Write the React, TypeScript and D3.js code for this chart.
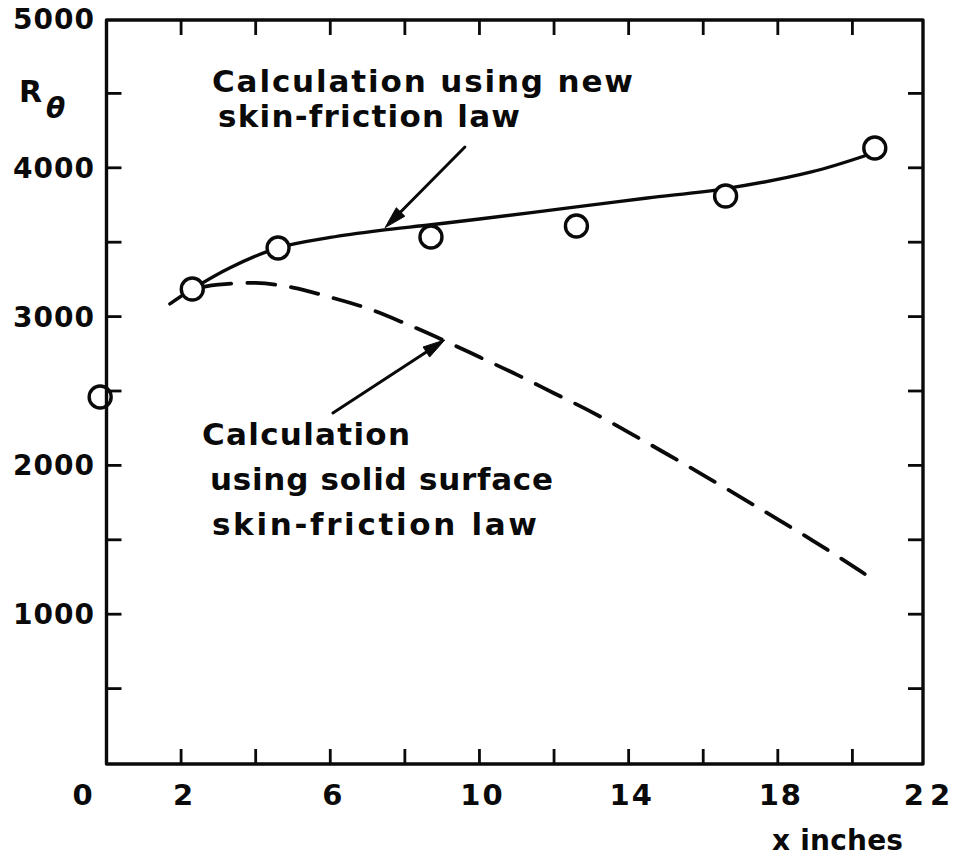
import React from "react";
import * as d3 from "d3";

// ---- data ----
const xTickValues = [2, 4, 6, 8, 10, 12, 14, 16, 18, 20];
const xTickLabels = [0, 2, 6, 10, 14, 18, 22];
const yTickValues = [500, 1000, 1500, 2000, 2500, 3000, 3500, 4000, 4500];
const yTickLabels = [1000, 2000, 3000, 4000, 5000];

// measured R_theta (circles)
const obsX = [-0.17, 2.3, 4.6, 8.7, 12.6, 16.6, 20.6];
const obsY = [2460, 3185, 3461, 3535, 3609, 3810, 4133];

// calculation using new skin-friction law (solid)
const newLawX = [1.7, 2.3, 3.3, 4.6, 6.0, 7.3, 8.7, 10.0, 12.6, 14.5, 16.6, 18.9, 20.4];
const newLawY = [3085, 3185, 3327, 3462, 3532, 3578, 3617, 3656, 3737, 3797, 3860, 3972, 4086];

// calculation using solid surface skin-friction law (dashed)
const solidLawX = [2.6, 3.0, 4.0, 5.0, 6.0, 7.0, 8.0, 9.0, 10.0, 11.0, 12.0, 13.0, 14.0, 15.0, 16.0, 17.0, 18.0, 19.0, 20.0, 20.6];
const solidLawY = [3200, 3215, 3226, 3195, 3130, 3055, 2955, 2845, 2728, 2610, 2485, 2360, 2222, 2080, 1935, 1787, 1637, 1485, 1325, 1225];

// annotation arrows (tail -> tip), in data units
const arrowNew = { x1: 9.61, y1: 4140, x2: 7.47, y2: 3598 };
const arrowSolid = { x1: 6.07, y1: 2352, x2: 9.07, y2: 2843 };

const W = 958;
const H = 856;
const FONT = "'DejaVu Sans', 'Open Sans', sans-serif";
const INK = "#0a0a0a";

export default function App() {
  const x = d3.scaleLinear().domain([0, 22]).range([106.5, 927]);
  const y = d3.scaleLinear().domain([0, 5000]).range([763, 19]);

  const frameLeft = x(0);
  const frameRight = 923;
  const frameTop = y(5000) + 1;
  const frameBottom = y(0) + 1;
  const tickLen = 15;

  const line = d3
    .line<[number, number]>()
    .x((d) => x(d[0]))
    .y((d) => y(d[1]))
    .curve(d3.curveCatmullRom.alpha(0.5));

  const newPts: [number, number][] = newLawX.map((v, i) => [v, newLawY[i]]);
  const solidPts: [number, number][] = solidLawX.map((v, i) => [v, solidLawY[i]]);

  const arrow = (a: { x1: number; y1: number; x2: number; y2: number }) => {
    const sx = x(a.x1), sy = y(a.y1), tx = x(a.x2), ty = y(a.y2);
    const ang = Math.atan2(ty - sy, tx - sx);
    const hl = 22, hw = 6;
    const bx = tx - hl * Math.cos(ang), by = ty - hl * Math.sin(ang);
    const px = -Math.sin(ang) * hw, py = Math.cos(ang) * hw;
    const head = `M${tx},${ty}L${bx + px},${by + py}L${bx - px},${by - py}Z`;
    return (
      <g>
        <line x1={sx} y1={sy} x2={bx} y2={by} stroke={INK} strokeWidth={3} strokeLinecap="round" />
        <path d={head} fill={INK} stroke={INK} strokeWidth={1} strokeLinejoin="round" />
      </g>
    );
  };

  const textStyle = {
    fontFamily: FONT,
    fontWeight: "bold",
    fill: INK,
  } as React.CSSProperties;

  return (
    <svg
      width={W}
      height={H}
      viewBox={`0 0 ${W} ${H}`}
      style={{ position: "absolute", left: 0, top: 0, background: "#fff" }}
    >
      <rect x={0} y={0} width={W} height={H} fill="#fff" />

      {/* curves */}
      <path d={line(newPts) || ""} fill="none" stroke={INK} strokeWidth={3.4} strokeLinecap="round" />
      <path
        d={line(solidPts) || ""}
        fill="none"
        stroke={INK}
        strokeWidth={3.8}
        strokeDasharray="28 16"
        strokeLinecap="round"
      />

      {/* arrows */}
      {arrow(arrowNew)}
      {arrow(arrowSolid)}

      {/* data circles */}
      {obsX.map((v, i) => (
        <circle key={i} cx={x(v)} cy={y(obsY[i])} r={11} fill="#fff" stroke={INK} strokeWidth={3.4} />
      ))}

      {/* frame */}
      <path
        d={`M${frameLeft},${frameTop}H${frameRight}V${frameBottom}H${frameLeft}Z`}
        fill="none"
        stroke={INK}
        strokeWidth={3.4}
        strokeLinejoin="round"
      />

      {/* x ticks top & bottom */}
      {xTickValues.map((v) => (
        <g key={"xt" + v}>
          <line x1={x(v)} x2={x(v)} y1={frameBottom} y2={frameBottom - tickLen} stroke={INK} strokeWidth={2.8} />
          <line x1={x(v)} x2={x(v)} y1={frameTop} y2={frameTop + tickLen} stroke={INK} strokeWidth={2.8} />
        </g>
      ))}
      {/* y ticks left & right */}
      {yTickValues.map((v) => (
        <g key={"yt" + v}>
          <line x1={frameLeft} x2={frameLeft + tickLen} y1={y(v)} y2={y(v)} stroke={INK} strokeWidth={2.8} />
          <line x1={frameRight} x2={frameRight - tickLen} y1={y(v)} y2={y(v)} stroke={INK} strokeWidth={2.8} />
        </g>
      ))}

      {/* y tick labels */}
      {yTickLabels.map((v) => (
        <text
          key={"yl" + v}
          x={94}
          y={y(v) + 10}
          textAnchor="end"
          fontSize={28}
          textLength={81}
          lengthAdjust="spacing"
          style={textStyle}
        >
          {v}
        </text>
      ))}

      {/* x tick labels */}
      {xTickLabels.map((v) => {
        const cx = v === 0 ? x(v) - 23 : x(v) + 3;
        const s = String(v);
        return (
          <text
            key={"xl" + v}
            x={cx}
            y={805}
            textAnchor="middle"
            fontSize={29}
            letterSpacing={v === 22 ? 6 : 2}
            style={textStyle}
          >
            {s}
          </text>
        );
      })}

      {/* axis titles */}
      <text x={19} y={102} fontSize={30} style={textStyle}>R</text>
      <text x={46} y={118} fontSize={28} fontStyle="italic" style={textStyle}>θ</text>
      <text x={772} y={850} fontSize={28} textLength={131} lengthAdjust="spacing" style={textStyle}>
        x inches
      </text>

      {/* annotations */}
      <text x={212} y={92} fontSize={31} textLength={421} lengthAdjust="spacing" style={textStyle}>
        Calculation using new
      </text>
      <text x={218} y={127} fontSize={31} textLength={302} lengthAdjust="spacing" style={textStyle}>
        skin-friction law
      </text>
      <text x={202} y={445} fontSize={31} textLength={208} lengthAdjust="spacing" style={textStyle}>
        Calculation
      </text>
      <text x={210} y={490} fontSize={31} textLength={343} lengthAdjust="spacing" style={textStyle}>
        using solid surface
      </text>
      <text x={212} y={535} fontSize={31} textLength={325} lengthAdjust="spacing" style={textStyle}>
        skin-friction law
      </text>
    </svg>
  );
}
